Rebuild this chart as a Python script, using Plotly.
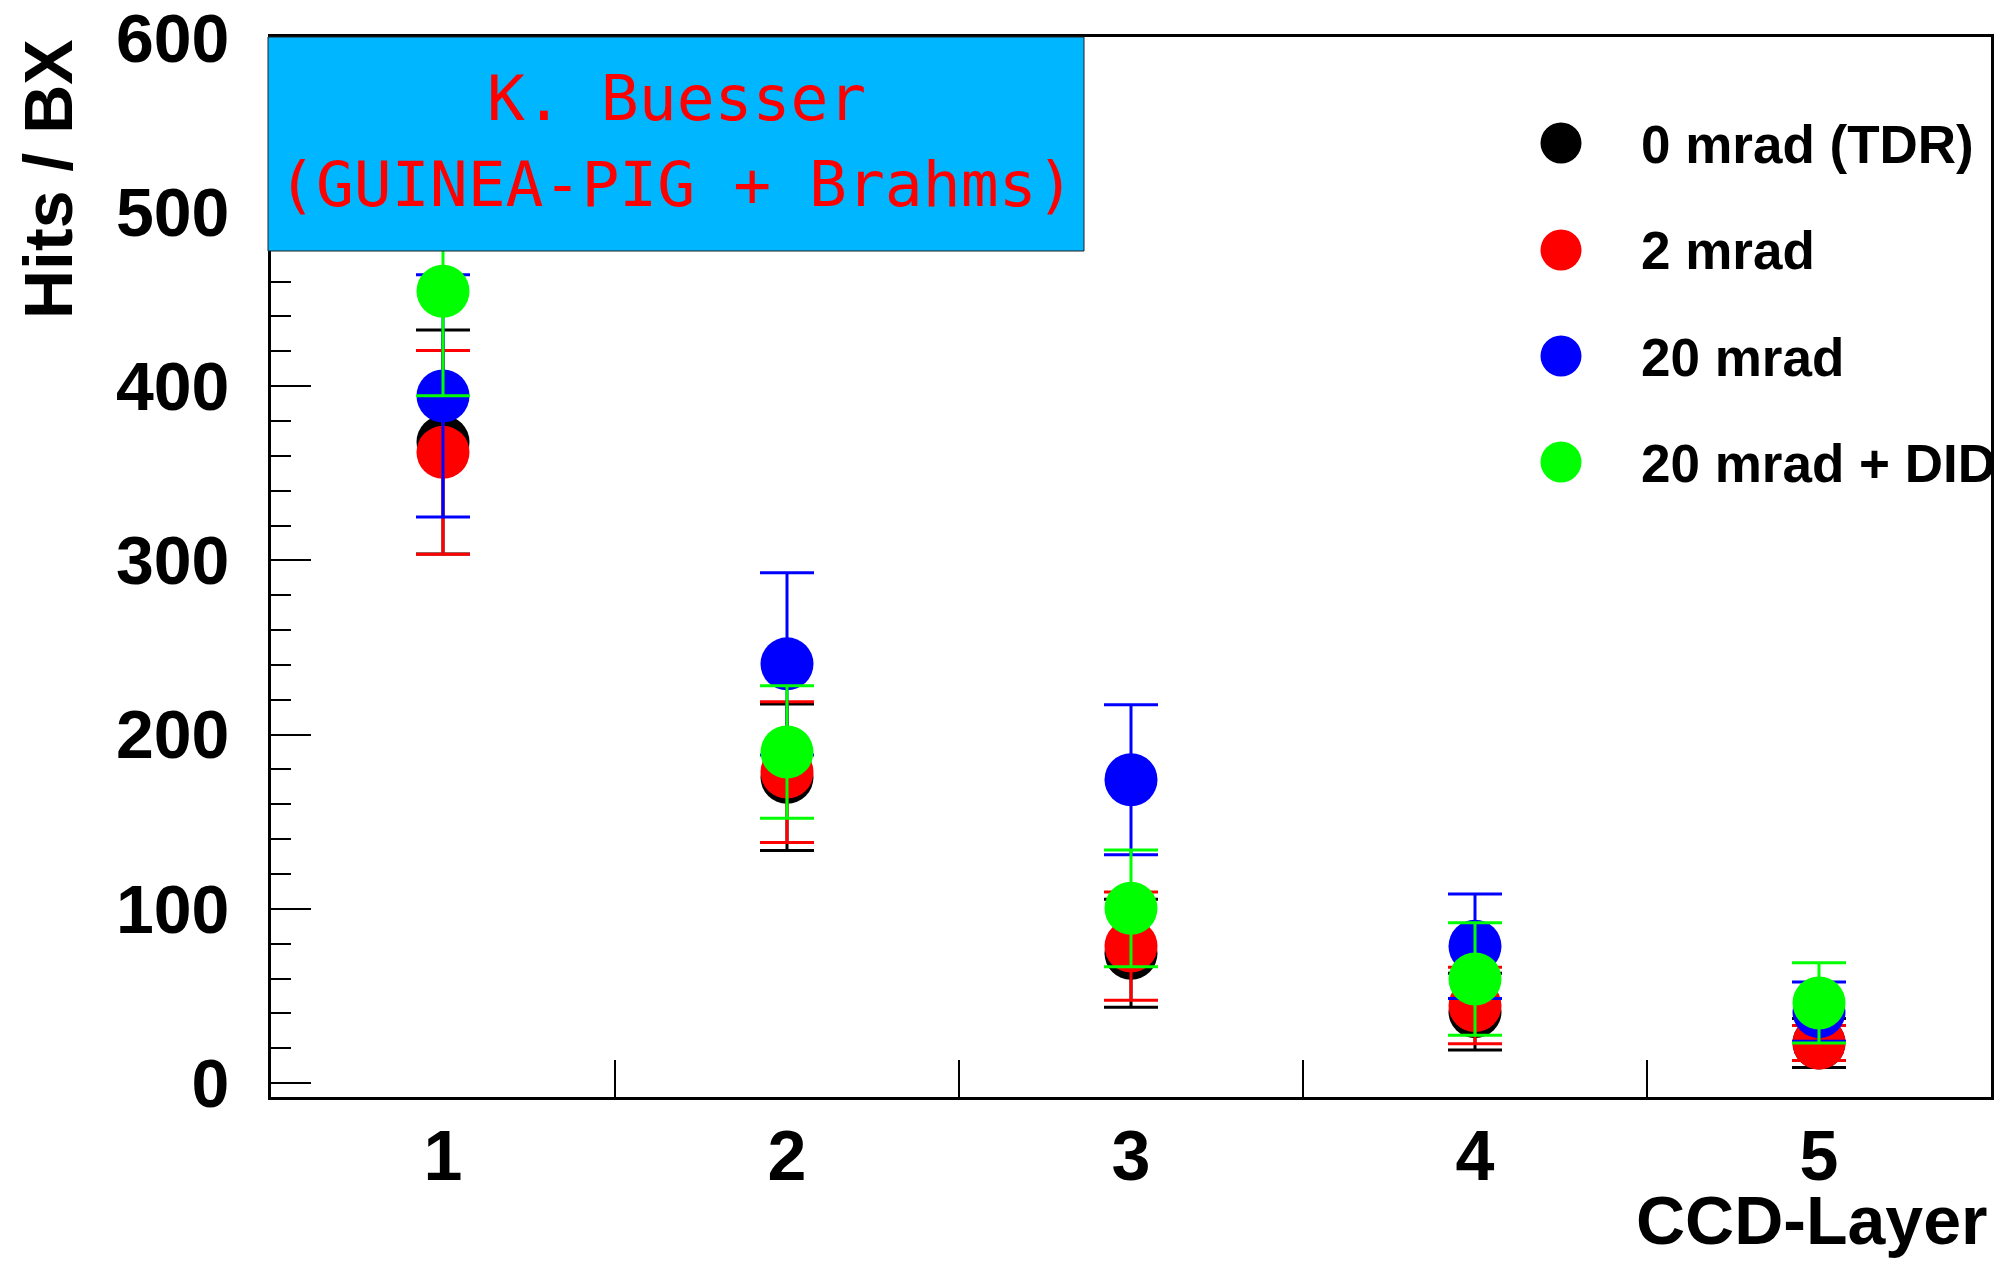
import plotly.graph_objects as go

# CCD layers and the four crossing-angle configurations
layers = [1, 2, 3, 4, 5]
series_names = ["0 mrad (TDR)", "2 mrad", "20 mrad", "20 mrad + DID"]
series_colors = ["#000000", "#ff0000", "#0000ff", "#00ff00"]

hits_0mrad = [368, 175.5, 74.5, 41, 23]
err_0mrad = [64.3, 42, 31, 22, 14]
hits_2mrad = [362, 178.5, 78.6, 44.5, 23]
err_2mrad = [58.5, 40.4, 31, 22, 10]
hits_20mrad = [394.4, 240.6, 174.1, 78.5, 41]
err_20mrad = [69.5, 52.3, 43, 30, 17]
hits_20mrad_did = [454.5, 190, 100.3, 59.7, 46]
err_20mrad_did = [60, 38, 33.5, 32.3, 23]

y_ticks = [0, 100, 200, 300, 400, 500, 600]
layer_edges = [1.5, 2.5, 3.5, 4.5]

values = [hits_0mrad, hits_2mrad, hits_20mrad, hits_20mrad_did]
errors = [err_0mrad, err_2mrad, err_20mrad, err_20mrad_did]

W, H = 2005, 1270
ML, MR, MT, MB = 271, 14, 37, 173
PW, PH = W - ML - MR, H - MT - MB


def px_x(p):
    return (p - ML) / PW


def px_y(p):
    return (H - MB - p) / PH


fig = go.Figure()
for name, color, ys, es in zip(series_names, series_colors, values, errors):
    fig.add_trace(go.Scatter(
        x=layers, y=ys, mode="markers", name=name,
        marker=dict(color=color, size=53, line=dict(width=0)),
        error_y=dict(type="data", array=es, visible=True,
                     color=color, thickness=3, width=27),
        showlegend=False,
    ))

font_main = "Liberation Sans, Arial, Helvetica, sans-serif"

shapes = []
annotations = []

# Legend: large filled circles with bold labels
legend_y_px = [143, 250, 356, 462]
for name, color, yp in zip(series_names, series_colors, legend_y_px):
    shapes.append(dict(
        type="circle", xref="paper", yref="paper",
        xsizemode="pixel", ysizemode="pixel",
        xanchor=px_x(1561), yanchor=px_y(yp),
        x0=-20.5, x1=20.5, y0=-20.5, y1=20.5,
        fillcolor=color, line=dict(width=0), layer="above",
    ))
    annotations.append(dict(
        text="<b>%s</b>" % name, xref="paper", yref="paper",
        x=px_x(1639), y=px_y(yp + 1), xanchor="left", yanchor="middle",
        showarrow=False, font=dict(family=font_main, size=53, color="black"),
    ))

# Credit box in the upper-left corner
shapes.append(dict(
    type="rect", xref="paper", yref="paper",
    x0=px_x(268), x1=px_x(1084), y0=px_y(251), y1=px_y(37),
    fillcolor="#00b6ff", line=dict(color="#202020", width=1), layer="above",
))
annotations.append(dict(
    text="K. Buesser", xref="paper", yref="paper",
    x=px_x(676), y=px_y(99), xanchor="center", yanchor="middle",
    showarrow=False, font=dict(family="DejaVu Sans Mono", size=63, color="#ff0000"),
))
annotations.append(dict(
    text="(GUINEA-PIG + Brahms)", xref="paper", yref="paper",
    x=px_x(676), y=px_y(185), xanchor="center", yanchor="middle",
    showarrow=False, font=dict(family="DejaVu Sans Mono", size=63, color="#ff0000"),
))

# Axis titles
annotations.append(dict(
    text="<b>Hits / BX</b>", xref="paper", yref="paper",
    x=px_x(48), y=px_y(37), xanchor="center", yanchor="top", textangle=-90,
    showarrow=False, font=dict(family=font_main, size=68, color="black"),
))
annotations.append(dict(
    text="<b>CCD-Layer</b>", xref="paper", yref="paper",
    x=px_x(1989), y=px_y(1220), xanchor="right", yanchor="middle",
    showarrow=False, font=dict(family=font_main, size=68, color="black"),
))

fig.update_layout(
    width=W, height=H,
    margin=dict(l=ML, r=MR, t=MT, b=MB, autoexpand=False),
    paper_bgcolor="white", plot_bgcolor="white",
    shapes=shapes, annotations=annotations,
    xaxis=dict(
        range=[0.5, 5.5], tickmode="array", tickvals=layers,
        ticktext=[str(v) for v in layers], automargin=False,
        ticks="", showgrid=False, zeroline=False,
        showline=True, linecolor="black", linewidth=3, mirror=True,
        tickfont=dict(family=font_main, size=70, color="black", weight="bold"),
        ticklabelstandoff=-4, ticklabeloverflow="allow",
        minor=dict(tickmode="array", tickvals=layer_edges, ticks="inside",
                   ticklen=37, tickwidth=2, tickcolor="black", showgrid=False),
    ),
    yaxis=dict(
        range=[-8, 600.4], tickmode="array", tickvals=y_ticks, automargin=False,
        ticks="inside", ticklen=40, tickwidth=2, tickcolor="black",
        showgrid=False, zeroline=False,
        showline=True, linecolor="black", linewidth=3, mirror=True,
        tickfont=dict(family=font_main, size=68, color="black", weight="bold"),
        ticklabelstandoff=25, ticklabeloverflow="allow",
        minor=dict(dtick=20, ticks="inside", ticklen=20, tickwidth=2,
                   tickcolor="black", showgrid=False),
    ),
)

fig.write_html("out.html")
